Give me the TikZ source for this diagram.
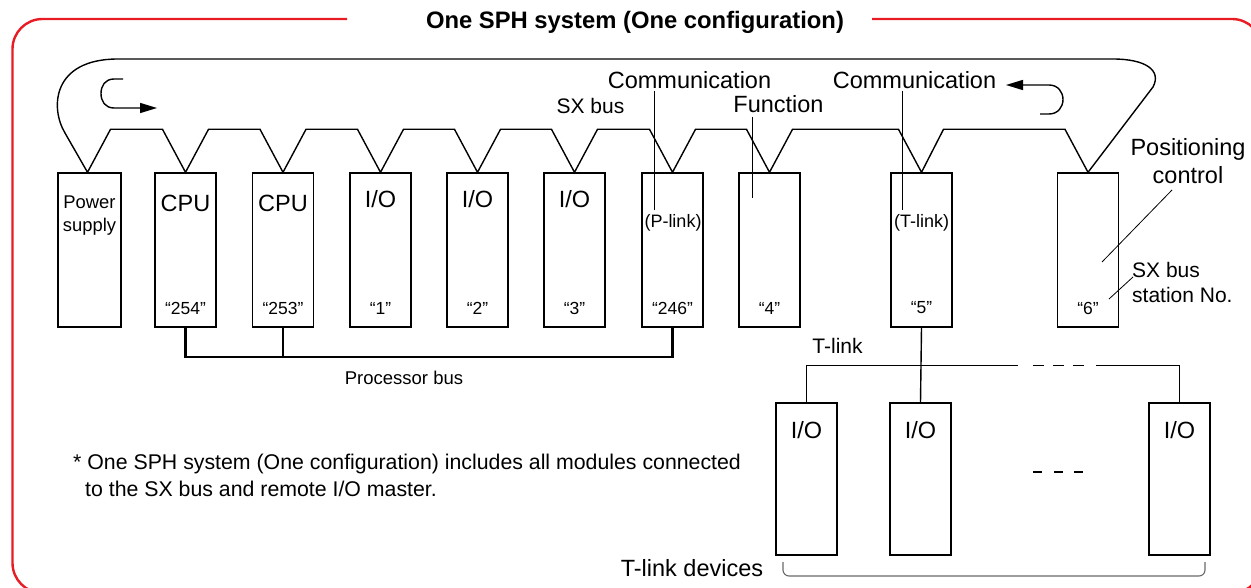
\documentclass[tikz,border=0pt]{standalone}
\usepackage{fontspec}
\setmainfont{Liberation Sans}
\usetikzlibrary{arrows.meta,calc}
\definecolor{framered}{RGB}{232,28,36}
\definecolor{bracegray}{RGB}{105,105,105}
\newcommand\setfs[1]{\fontsize{#1}{#1}\selectfont}
\begin{document}
\begin{tikzpicture}[x=1pt,y=-1pt,
  mod/.style={draw, line width=1.4pt, minimum width=61pt, minimum height=154pt, inner sep=0pt},
  bmod/.style={mod, minimum height=152pt},
  bus/.style={line width=1.4pt, line join=miter},
  lead/.style={line width=0.8pt},
  tl/.style={line width=1.4pt},
  big/.style={inner sep=0pt, font=\setfs{23.5}},
  mid/.style={inner sep=0pt, font=\setfs{21}},
  small/.style={inner sep=0pt, font=\setfs{17.5}},
  flowarrow/.style={line width=1.4pt, -{Triangle[length=17pt,width=10pt]}},
]
\useasboundingbox (0,0) rectangle (1251,588);
\clip (0,0) rectangle (1251,588);
% frame
\draw[framered, line width=2.4pt, rounded corners=30pt] (347,19) -- (12.5,19) -- (12.5,593) -- (1262,593) -- (1262,19) -- (872,19);
\node[inner sep=0pt, font=\bfseries\setfs{23.8}] (title) at (635,22) {One SPH system (One configuration)};

% modules
\node[mod, minimum width=63pt] (ps) at (89.5,250) {};
\node[mod] (c1) at (185.5,250) {};
\node[mod] (c2) at (283,250) {};
\node[mod] (io1) at (380.5,250) {};
\node[mod] (io2) at (477.5,250) {};
\node[mod] (io3) at (574.5,250) {};
\node[mod] (pl) at (672.5,250) {};
\node[mod] (fn) at (769.5,250) {};
\node[mod] (tk) at (921.5,250) {};
\node[mod] (pc) at (1088,250) {};

% module texts
\node[inner sep=0pt, align=center, font=\fontsize{18.4}{23}\selectfont] at (89.5,215.5) {Power\\supply};
\node[big] at (185.5,203) {CPU};
\node[big] at (283,203) {CPU};
\node[big] at (380.5,199) {I/O};
\node[big] at (477.5,199) {I/O};
\node[big] at (574.5,199) {I/O};
\node[small] at (185.5,308) {“254”};
\node[small] at (283,308) {“253”};
\node[small] at (380.5,308) {“1”};
\node[small] at (477.5,308) {“2”};
\node[small] at (574.5,308) {“3”};
\node[small] at (672.5,308) {“246”};
\node[small] at (769.5,308) {“4”};
\node[small] at (921.5,308) {“5”};
\node[small] at (1088,308) {“6”};
\node[inner sep=0pt, font=\setfs{18}] (plink) at (673,223) {(P-link)};
\node[inner sep=0pt, font=\setfs{18}] (tlink) at (921.5,223) {(T-link)};

% SX bus
\coordinate (psv) at ($(ps.north)+(-2,0)$);
\draw[bus] (pc.north) -- ++(-23,-43) -- ($(tk.north)+(22,-43)$) -- (tk.north) -- ++(-23,-43)
  -- ($(fn.north)+(23,-43)$) -- (fn.north) -- ++(-23,-43)
  -- ($(pl.north)+(23,-43)$) -- (pl.north) -- ++(-23,-43)
  -- ($(io3.north)+(23,-43)$) -- (io3.north) -- ++(-23,-43)
  -- ($(io2.north)+(23,-43)$) -- (io2.north) -- ++(-23,-43)
  -- ($(io1.north)+(23,-43)$) -- (io1.north) -- ++(-23,-43)
  -- ($(c2.north)+(23,-43)$) -- (c2.north) -- ++(-23,-43)
  -- ($(c1.north)+(23,-43)$) -- (c1.north) -- ++(-23,-43)
  -- ($(psv)+(23,-43)$) -- (psv) -- (65,133)
  .. controls (50,108) and (52,59) .. (118,59) -- (1113,59)
  .. controls (1145,59) and (1162,70) .. (1153,87) -- (pc.north);

% circulation arrows
\draw[flowarrow] (123,79) -- (114,79)
  .. controls (105,79) and (101,86) .. (101,93.5) .. controls (101,101) and (105,108) .. (114,108) -- (157,108);
\draw[flowarrow] (1040,114) -- (1049,114)
  .. controls (1058,114) and (1063,107) .. (1063,99.5) .. controls (1063,92) and (1058,85) .. (1049,85) -- (1006,85);

% labels
\node[mid] (sx) at (590.5,106) {SX bus};
\node[big] (comP) at (689.5,80) {Communication};
\node[big] (func) at (778.5,104) {Function};
\node[big] (comT) at (914.5,80) {Communication};
\draw[lead] (654,91) -- (654,210);
\draw[lead] (752,117) -- (752,198);
\draw[lead] (902,91) -- (902,210);
\node[inner sep=0pt, align=center, font=\fontsize{23.5}{28}\selectfont] (posc) at (1188,161) {Positioning\\control};
\draw[lead] (1172,190) -- (1102,262);
\node[inner sep=0pt, align=left, anchor=west, font=\fontsize{21}{25}\selectfont] (stno) at (1132,282.5) {SX bus\\station No.};
\draw[lead] (1133,277) -- (1109,299);

% processor bus
\draw[line width=2.4pt] (c1.south) -- (185.5,357) -| (pl.south);
\draw[line width=2.4pt] (c2.south) -- (283,357);
\node[inner sep=0pt, font=\setfs{18.5}] (pbus) at (404,378) {Processor bus};

% T-link
\node[bmod] (b1) at (806.5,479) {};
\node[bmod] (b2) at (920.5,479) {};
\node[bmod] (b3) at (1179.5,479) {};
\node[big] at (806.5,430) {I/O};
\node[big] at (920.5,430) {I/O};
\node[big] at (1179.5,430) {I/O};
\node[mid] (tlab) at (837.5,346) {T-link};
\draw[tl] (tk.south) -- (b2.north);
\draw[tl] (b1.north) |- (1018,365.5);
\draw[tl] (1096,365.5) -| (b3.north);
\draw[tl] (1033,365.5) -- (1044,365.5);
\draw[tl] (1053,365.5) -- (1064,365.5);
\draw[tl] (1073,365.5) -- (1084,365.5);
\draw[line width=1.1pt] (1033,472) -- (1042,472);
\draw[line width=1.1pt] (1054,472) -- (1063,472);
\draw[line width=1.1pt] (1074,472) -- (1083,472);
\draw[bracegray, line width=1.1pt, rounded corners=6pt] (783,562) -- (783,576) -- (1205,576) -- (1205,562);
\node[big] (tdev) at (692,568) {T-link devices};

% note
\node[inner sep=0pt, anchor=west, font=\setfs{21.3}] (note1) at (73,464) {* One SPH system (One configuration) includes all modules connected};
\node[inner sep=0pt, anchor=west, font=\setfs{21.3}] (note2) at (85,489) {to the SX bus and remote I/O master.};
\end{tikzpicture}
\end{document}
